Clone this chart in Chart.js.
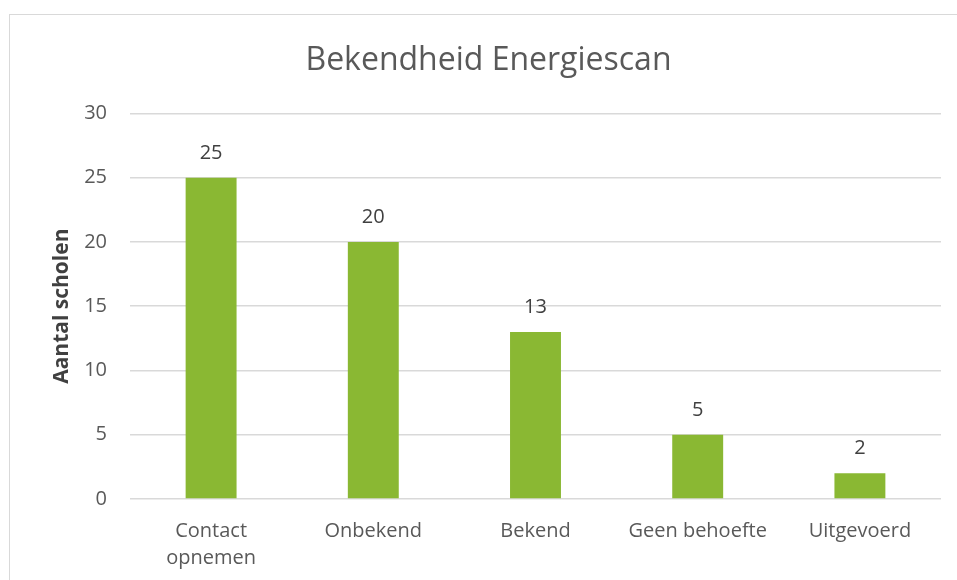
<!DOCTYPE html>
<html>
<head>
<meta charset="utf-8">
<script src="https://cdn.jsdelivr.net/npm/chart.js@4"></script>
<style>
  html, body { margin: 0; padding: 0; background: #fff; overflow: hidden; }
  #wrap { position: relative; width: 957px; height: 580px; }
  #frame { position: absolute; left: 9px; top: 14px; width: 1000px; height: 700px; border: 1px solid #d9d9d9; }
  canvas { position: absolute; left: 0; top: 0; }
</style>
</head>
<body>
<div id="wrap">
  <div id="frame"></div>
  <canvas id="scanChart" width="957" height="580"></canvas>
</div>
<script>
// Bekendheid Energiescan – aantal scholen per antwoord
const categories = [['Contact', 'opnemen'], 'Onbekend', 'Bekend', 'Geen behoefte', 'Uitgevoerd'];
const schoolCounts = [25, 20, 13, 5, 2];
const yTicks = [0, 5, 10, 15, 20, 25, 30];

const textFont = "'Open Sans', sans-serif";

// value labels above each bar
const barLabels = {
  id: 'barLabels',
  afterDatasetsDraw(chart) {
    const ctx = chart.ctx;
    const meta = chart.getDatasetMeta(0);
    ctx.save();
    ctx.font = "20px " + textFont;
    ctx.fillStyle = '#404040';
    ctx.textAlign = 'center';
    ctx.textBaseline = 'alphabetic';
    meta.data.forEach((bar, i) => {
      ctx.fillText(String(schoolCounts[i]), bar.x, bar.y - 19);
    });
    ctx.restore();
  }
};

new Chart(document.getElementById('scanChart').getContext('2d'), {
  type: 'bar',
  data: {
    labels: categories,
    datasets: [{
      data: schoolCounts,
      backgroundColor: '#8ab833',
      categoryPercentage: 1,
      barPercentage: 0.314
    }]
  },
  options: {
    responsive: false,
    animation: false,
    layout: { padding: { left: 36, right: 16, top: 14, bottom: 0 } },
    plugins: {
      legend: { display: false },
      tooltip: { enabled: false },
      title: {
        display: true,
        text: 'Bekendheid Energiescan',
        color: '#595959',
        font: { family: textFont, size: 32, weight: 'normal' },
        padding: { top: 28, bottom: 33 }
      }
    },
    scales: {
      x: {
        grid: { display: false, drawTicks: false },
        border: { display: false },
        ticks: {
          color: '#595959',
          font: { family: textFont, size: 20, lineHeight: 1.35 },
          padding: 19,
          maxRotation: 0,
          autoSkip: false
        },
        afterFit(scale) { scale.height = 81; }
      },
      y: {
        min: 0,
        max: 30,
        afterBuildTicks(scale) { scale.ticks = yTicks.map(v => ({ value: v })); },
        grid: { color: '#d9d9d9', lineWidth: 1.5, drawTicks: false },
        border: { display: false },
        ticks: {
          color: '#595959',
          font: { family: textFont, size: 20 },
          padding: 23
        },
        title: {
          display: true,
          text: 'Aantal scholen',
          color: '#404040',
          font: { family: textFont, size: 21, weight: 'bold' },
          padding: { top: 13, bottom: 0 }
        },
        afterFit(scale) { scale.width = 94; }
      }
    }
  },
  plugins: [barLabels]
});
</script>
</body>
</html>
